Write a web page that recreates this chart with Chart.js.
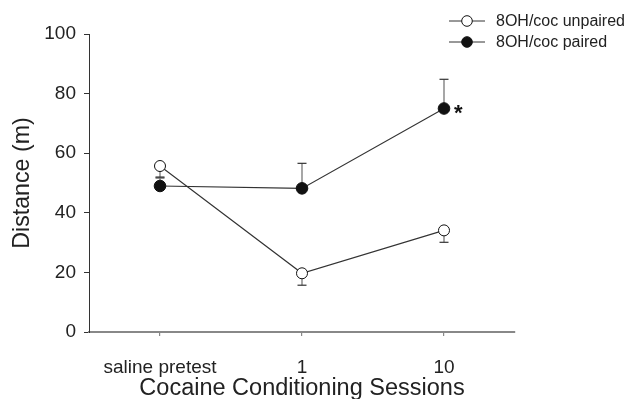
<!DOCTYPE html>
<html>
<head>
<meta charset="utf-8">
<script src="https://cdn.jsdelivr.net/npm/chart.js@4"></script>
<style>
  html, body { margin: 0; padding: 0; background: #fff; }
  #wrap { width: 630px; height: 399px; position: relative; }
</style>
</head>
<body>
<div id="wrap"><canvas id="c" width="630" height="399"></canvas></div>
<script>
const categories = ['saline pretest', '1', '10'];
const unpairedLabel = '8OH/coc unpaired';
const pairedLabel = '8OH/coc paired';
const unpairedMeans = [55.7, 19.7, 34.1];
const unpairedErr = [4.0, 4.0, 4.0];      // drawn downward
const pairedMeans = [49.0, 48.2, 75.0];
const pairedErr = [3.0, 8.4, 9.8];        // drawn upward
const yTicks = [0, 20, 40, 60, 80, 100];
const significance = [null, null, '*'];   // markers beside paired points
const FONT = '"Liberation Sans", Arial, sans-serif';

const errorBarPlugin = {
  id: 'errorBars',
  beforeDatasetsDraw(chart) {
    const ctx = chart.ctx;
    const x = chart.scales.x, y = chart.scales.y;
    const sets = [
      { means: unpairedMeans, errs: unpairedErr, dir: -1 },
      { means: pairedMeans, errs: pairedErr, dir: 1 }
    ];
    ctx.save();
    sets.forEach(s => {
      s.means.forEach((m, i) => {
        const px = x.getPixelForValue(i);
        const p0 = y.getPixelForValue(m);
        const p1 = y.getPixelForValue(m + s.dir * s.errs[i]);
        ctx.strokeStyle = '#777';
        ctx.lineWidth = 1.3;
        ctx.beginPath(); ctx.moveTo(px, p0); ctx.lineTo(px, p1); ctx.stroke();
        ctx.strokeStyle = '#333';
        ctx.lineWidth = 1.2;
        ctx.beginPath(); ctx.moveTo(px - 4.5, p1); ctx.lineTo(px + 4.5, p1); ctx.stroke();
      });
    });
    ctx.restore();
  },
  afterDraw(chart) {
    const ctx = chart.ctx;
    const x = chart.scales.x, y = chart.scales.y;
    ctx.save();
    // significance markers
    ctx.fillStyle = '#111';
    ctx.font = 'bold 22px ' + FONT;
    ctx.textAlign = 'left';
    ctx.textBaseline = 'middle';
    significance.forEach((s, i) => {
      if (!s) return;
      ctx.fillText(s, x.getPixelForValue(i) + 10, y.getPixelForValue(pairedMeans[i]) + 5);
    });
    // legend
    const items = [
      { label: unpairedLabel, fill: '#fff' },
      { label: pairedLabel, fill: '#111' }
    ];
    items.forEach((it, k) => {
      const ly = 21 + k * 21;
      ctx.strokeStyle = '#333';
      ctx.lineWidth = 1;
      ctx.beginPath(); ctx.moveTo(449, ly); ctx.lineTo(485, ly); ctx.stroke();
      ctx.beginPath(); ctx.arc(467, ly, 5.3, 0, Math.PI * 2);
      ctx.fillStyle = it.fill; ctx.fill();
      ctx.strokeStyle = '#111'; ctx.stroke();
      ctx.fillStyle = '#222';
      ctx.font = '16px ' + FONT;
      ctx.textAlign = 'left';
      ctx.textBaseline = 'middle';
      ctx.fillText(it.label, 496, ly + 1);
    });
    ctx.restore();
  }
};

new Chart(document.getElementById('c'), {
  type: 'line',
  data: {
    labels: categories,
    datasets: [
      {
        label: unpairedLabel,
        data: unpairedMeans,
        borderColor: '#333',
        borderWidth: 1.1,
        pointRadius: 5.5,
        pointBackgroundColor: '#fff',
        pointBorderColor: '#111',
        pointBorderWidth: 1,
        tension: 0
      },
      {
        label: pairedLabel,
        data: pairedMeans,
        borderColor: '#333',
        borderWidth: 1.1,
        pointRadius: 5.8,
        pointBackgroundColor: '#111',
        pointBorderColor: '#111',
        pointBorderWidth: 1,
        tension: 0
      }
    ]
  },
  options: {
    responsive: false,
    animation: false,
    devicePixelRatio: 1,
    layout: { padding: { top: 34, right: 115, left: 0, bottom: 0 } },
    plugins: { legend: { display: false }, tooltip: { enabled: false } },
    scales: {
      x: {
        type: 'category',
        offset: true,
        grid: { display: true, drawOnChartArea: false, offset: false, tickLength: 4, color: '#888', lineWidth: 1.2 },
        border: { display: true, color: '#888', width: 2 },
        ticks: { font: { family: FONT, size: 19 }, color: '#222', padding: 20, maxRotation: 0 },
        title: { display: true, text: 'Cocaine Conditioning Sessions', font: { family: FONT, size: 23.5 }, color: '#222', padding: { top: 0, bottom: -3.5 } },
        afterFit(scale) { scale.height = 67; }
      },
      y: {
        min: 0, max: 100,
        afterBuildTicks(scale) { scale.ticks = yTicks.map(v => ({ value: v })); },
        grid: { display: true, drawOnChartArea: false, tickLength: 5, color: '#333' },
        border: { display: true, color: '#333', width: 1 },
        ticks: { font: { family: FONT, size: 19 }, color: '#222', padding: 8 },
        title: { display: true, text: 'Distance (m)', font: { family: FONT, size: 23.2 }, color: '#222', padding: { top: 8.4, bottom: 0 } },
        afterFit(scale) { scale.width = 89; }
      }
    }
  },
  plugins: [errorBarPlugin]
});
</script>
</body>
</html>
